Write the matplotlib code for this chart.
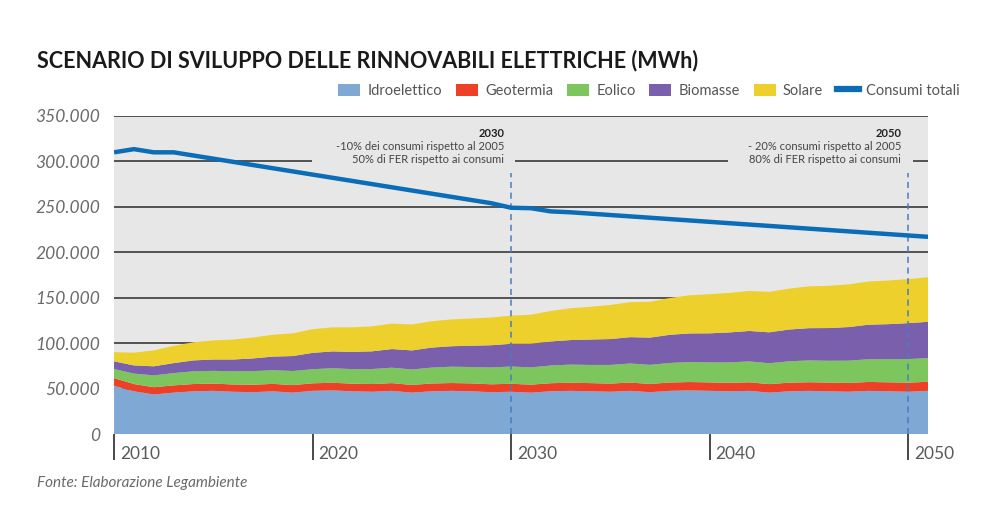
import matplotlib.pyplot as plt
from matplotlib.patches import Patch
from matplotlib.lines import Line2D
import matplotlib.transforms as mtransforms

# anni 2010-2051
years = list(range(2010, 2052))

idroelettico = [53000, 47000, 43500, 45500, 47000, 47500, 46500, 46000, 47000, 45500,
                47500, 48000, 47000, 46500, 47500, 45500, 47000, 47500, 47000, 46000,
                46500, 45500, 47000, 47500, 47000, 46500, 47500, 46000, 47500, 48000,
                47500, 47000, 47500, 45500, 47000, 47500, 47000, 46500, 47500, 47000,
                46500, 47500]
geotermia = [8500, 8000, 8000, 8000, 8000, 8000, 8000, 8200, 8200, 8300,
             8300, 8400, 8400, 8500, 8500, 8500, 8600, 8600, 8700, 8700,
             8800, 8800, 8900, 8900, 9000, 9000, 9100, 9100, 9200, 9200,
             9300, 9300, 9400, 9400, 9500, 9500, 9600, 9700, 9800, 9900,
             10000, 10000]
eolico = [10000, 11500, 13000, 13500, 14000, 14000, 14500, 15000, 15000, 15500,
          15500, 16000, 16000, 16500, 17000, 17000, 17500, 18000, 18000, 18500,
          19000, 19000, 19500, 20000, 20000, 20500, 21000, 21000, 21500, 22000,
          22000, 22500, 23000, 23000, 23500, 24000, 24000, 24500, 25000, 25500,
          26000, 26000]
biomasse = [8500, 9000, 10000, 11000, 12000, 12500, 13000, 14000, 15000, 16500,
            18000, 18500, 19000, 19500, 20500, 21000, 22000, 22500, 23500, 24500,
            25000, 26000, 26500, 27000, 28000, 28500, 29000, 30000, 31000, 31500,
            32000, 33000, 33500, 34000, 35000, 35500, 36000, 37000, 38000, 38500,
            39500, 40000]
solare = [10000, 14000, 17500, 19000, 20000, 21000, 22000, 23000, 24000, 25000,
          26000, 26500, 27000, 27500, 28000, 28500, 29000, 29500, 30000, 30500,
          31000, 32000, 33500, 35000, 36000, 37500, 38500, 39500, 40500, 42000,
          43000, 43500, 44000, 44500, 45000, 46000, 46500, 47000, 47500, 48000,
          48500, 49000]
consumi = [310000, 313500, 310000, 310000, 306500, 303000, 299500, 296000, 292500, 289000,
           285500, 282000, 278500, 275000, 271500, 268000, 264500, 261000, 257500, 254000,
           249000, 248500, 245000, 244000, 242500, 241000, 239500, 238000, 236500, 235000,
           233500, 232000, 230500, 229000, 227500, 226000, 224500, 223000, 221500, 220000,
           218500, 217000]

labels = ['Idroelettico', 'Geotermia', 'Eolico', 'Biomasse', 'Solare']
colors = ['#80a8d5', '#ee3f27', '#7dc55d', '#7a5fad', '#edd02b']
line_color = '#0b6db7'
yticks = [0, 50000, 100000, 150000, 200000, 250000, 300000, 350000]
ytick_labels = ['0', '50.000', '100.000', '150.000', '200.000', '250.000', '300.000', '350.000']
xticks = [2010, 2020, 2030, 2040, 2050]

plt.rcParams['font.family'] = ['Lato', 'DejaVu Sans']

fig = plt.figure(figsize=(9.9, 5.32), dpi=100)
ax = fig.add_axes([0.1152, 0.1842, 0.8222, 0.5978])
ax.set_facecolor('#e7e7e7')
ax.set_xlim(2010, 2051)
ax.set_ylim(0, 350000)
for s in ax.spines.values():
    s.set_visible(False)

# griglia
grid_kw = dict(color='#2a2a2a', lw=1.1, zorder=1)
for v in [350000, 250000, 200000, 150000, 100000, 50000]:
    ax.hlines(v, 2010, 2051, **grid_kw)
ax.hlines(300000, 2010, 2019.95, **grid_kw)
ax.hlines(300000, 2030.2, 2040.9, **grid_kw)
ax.hlines(300000, 2050.25, 2051, **grid_kw)

ax.stackplot(years, idroelettico, geotermia, eolico, biomasse, solare,
             colors=colors, labels=labels, zorder=2, lw=0)

for yr in [2030, 2050]:
    ax.vlines(yr, 0, 287000, colors='#4a7bc0', linestyles=(0, (4, 3)), lw=1.1, zorder=3)

ax.plot(years, consumi, color=line_color, lw=3.2, zorder=4, solid_capstyle='butt')

# annotazioni
notes = {2030: ['-10% dei consumi rispetto al 2005', '50% di FER rispetto ai consumi'],
         2050: ['- 20% consumi rispetto al 2005', '80% di FER rispetto ai consumi']}
for yr, lines in notes.items():
    ax.text(yr - 0.35, 331000, str(yr), ha='right', va='center', fontsize=8,
            fontweight='bold', color='#222222')
    ax.text(yr - 0.35, 316500, lines[0], ha='right', va='center', fontsize=8, color='#444444')
    ax.text(yr - 0.35, 302000, lines[1], ha='right', va='center', fontsize=8, color='#444444')

# assi
ax.set_yticks(yticks)
ax.set_yticklabels(ytick_labels, fontsize=12.5, style='italic', color='#6a6a6a')
ax.tick_params(axis='y', length=0, pad=10)
ax.set_xticks(xticks)
ax.set_xticklabels([])
ax.tick_params(axis='x', length=19, width=1.3, color='#3a3a3a', direction='out')
trans = mtransforms.blended_transform_factory(ax.transData, ax.transAxes)
for yr in xticks:
    ax.text(yr + 0.3, -0.062, str(yr), transform=trans, ha='left', va='center',
            fontsize=12.5, color='#5a5a5a')

# legenda
handles = [Patch(facecolor=c, edgecolor='none') for c in colors]
handles.append(Line2D([0], [0], color=line_color, lw=4.5))
fig.legend(handles, labels + ['Consumi totali'], loc='center right',
           bbox_to_anchor=(0.983, 0.829), ncol=6, frameon=False, fontsize=10.5,
           handlelength=1.5, handleheight=0.9, handletextpad=0.5, columnspacing=0.95,
           labelcolor='#555555')

fig.text(0.037, 0.887, 'SCENARIO DI SVILUPPO DELLE RINNOVABILI ELETTRICHE (MWh)',
         fontsize=15.5, fontweight='bold', color='#1a1a1a', va='center')
fig.text(0.037, 0.092, 'Fonte: Elaborazione Legambiente', fontsize=11, style='italic',
         color='#6a6a6a', va='center')

fig.savefig('out.png', dpi=100, facecolor='white')
